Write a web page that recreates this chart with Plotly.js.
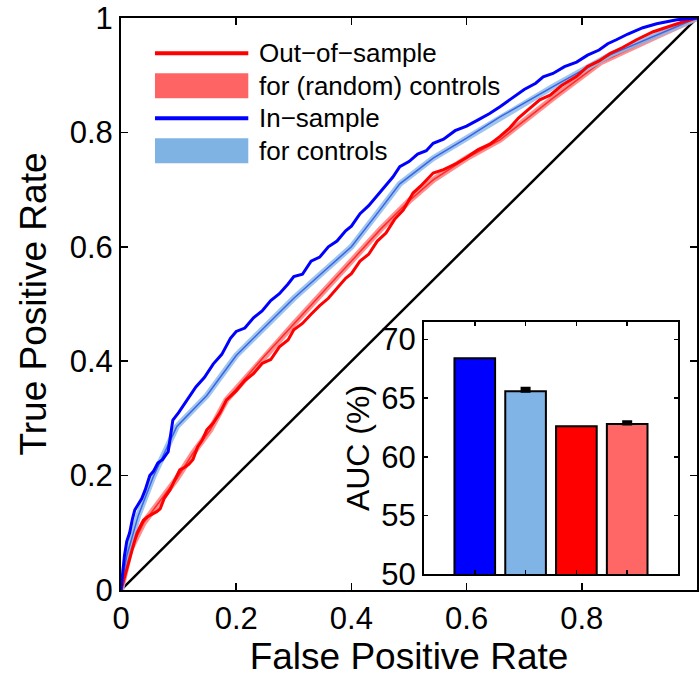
<!DOCTYPE html>
<html><head><meta charset="utf-8">
<script src="https://cdn.plot.ly/plotly-3.0.1.min.js"></script>
<style>body{margin:0;background:#fff}#chart{width:700px;height:680px}</style>
</head><body><div id="chart"></div>
<script>
// In-sample ROC (blue, jagged)
const inSampleFPR = [0,0.003,0.006,0.01,0.015,0.02,0.024,0.03,0.036,0.042,0.05,0.056,0.064,0.072,0.082,0.086,0.09,0.1,0.11,0.116,0.13,0.145,0.16,0.175,0.19,0.2,0.215,0.23,0.245,0.26,0.275,0.29,0.3,0.315,0.33,0.345,0.36,0.375,0.39,0.4,0.408,0.415,0.43,0.445,0.46,0.472,0.484,0.5,0.515,0.53,0.542,0.56,0.58,0.6,0.62,0.64,0.658,0.68,0.7,0.72,0.733,0.75,0.77,0.791,0.81,0.83,0.845,0.86,0.88,0.906,0.93,0.965,1];
const inSampleTPR = [0,0.03,0.06,0.085,0.1,0.125,0.14,0.15,0.16,0.175,0.2,0.207,0.222,0.228,0.242,0.27,0.297,0.31,0.325,0.335,0.355,0.372,0.395,0.412,0.44,0.452,0.458,0.476,0.488,0.506,0.518,0.535,0.548,0.552,0.575,0.582,0.6,0.61,0.628,0.636,0.648,0.658,0.672,0.69,0.706,0.722,0.74,0.749,0.762,0.768,0.781,0.788,0.803,0.811,0.822,0.833,0.845,0.86,0.875,0.886,0.897,0.903,0.915,0.923,0.935,0.944,0.955,0.962,0.972,0.983,0.99,0.997,1];
// In-sample controls (light blue band)
const ctrlInFPR = [0,0.01,0.03,0.056,0.097,0.149,0.2,0.25,0.3,0.35,0.4,0.45,0.484,0.542,0.6,0.658,0.75,0.85,0.93,1];
const ctrlInTPR = [0,0.06,0.13,0.198,0.286,0.34,0.41,0.46,0.51,0.555,0.6,0.665,0.71,0.755,0.79,0.827,0.88,0.936,0.97,1];
// Out-of-sample ROC (red, jagged)
const outSampleFPR = [0,0.004,0.008,0.012,0.016,0.022,0.028,0.034,0.039,0.046,0.055,0.062,0.068,0.075,0.085,0.092,0.102,0.11,0.118,0.125,0.133,0.141,0.149,0.16,0.172,0.183,0.2,0.215,0.23,0.245,0.26,0.275,0.29,0.3,0.315,0.33,0.345,0.36,0.375,0.39,0.4,0.415,0.43,0.445,0.46,0.475,0.49,0.507,0.52,0.542,0.56,0.583,0.6,0.62,0.64,0.658,0.675,0.69,0.705,0.727,0.745,0.765,0.791,0.81,0.83,0.849,0.87,0.895,0.924,0.95,0.975,1];
const outSampleTPR = [0,0.015,0.03,0.045,0.058,0.08,0.1,0.113,0.122,0.128,0.133,0.137,0.142,0.16,0.175,0.19,0.21,0.214,0.22,0.228,0.25,0.262,0.28,0.292,0.31,0.332,0.348,0.366,0.378,0.396,0.403,0.425,0.437,0.455,0.466,0.482,0.497,0.51,0.527,0.545,0.553,0.575,0.587,0.61,0.624,0.648,0.664,0.694,0.706,0.729,0.735,0.746,0.756,0.77,0.779,0.793,0.808,0.825,0.838,0.857,0.865,0.882,0.898,0.915,0.925,0.938,0.948,0.962,0.976,0.985,0.993,1];
// Out-of-sample random controls (light red band)
const ctrlOutFPR = [0,0.016,0.039,0.068,0.097,0.125,0.155,0.183,0.25,0.3,0.35,0.4,0.45,0.5,0.542,0.6,0.658,0.75,0.832,0.93,1];
const ctrlOutTPR = [0,0.07,0.117,0.157,0.195,0.239,0.28,0.332,0.41,0.465,0.52,0.575,0.63,0.68,0.717,0.755,0.787,0.86,0.922,0.968,1];
// chance diagonal
const diagX = [0,1];
const diagY = [0,1];
// Inset bar chart (AUC %)
const aucBars = [1,2,3,4];
const aucValues = [68.4,65.6,62.6,62.8];
const aucErrUp = [NaN,0.25,NaN,0.2];
const aucErrDown = [NaN,0,NaN,0];
const aucColors = ['#0000ff','#80b3e6','#ff0000','#ff6666'];
// ticks
const rocTickVals = [0,0.2,0.4,0.6,0.8,1];
const rocTickText = ['0','0.2','0.4','0.6','0.8','1'];
const aucTickVals = [50,55,60,65,70];
const aucTickText = ['50','55','60','65','70'];
// legend
const legendLabels = ['Out\u2212of\u2212sample','for (random) controls','In\u2212sample','for controls'];

const FONT = 'Liberation Sans, Arial, Helvetica, sans-serif';
const traces = [
  {x:diagX,y:diagY,mode:'lines',line:{color:'#000',width:2.5},hoverinfo:'skip'},
  {x:ctrlOutFPR,y:ctrlOutTPR,mode:'lines',line:{color:'#ff7b7b',width:6},opacity:0.85},
  {x:ctrlOutFPR,y:ctrlOutTPR,mode:'lines',line:{color:'#ff2a2a',width:1.5}},
  {x:ctrlInFPR,y:ctrlInTPR,mode:'lines',line:{color:'#8dbbea',width:6},opacity:0.85},
  {x:ctrlInFPR,y:ctrlInTPR,mode:'lines',line:{color:'#3a63e6',width:1.5}},
  {x:outSampleFPR,y:outSampleTPR,mode:'lines',line:{color:'#ff0000',width:3}},
  {x:inSampleFPR,y:inSampleTPR,mode:'lines',line:{color:'#0000ff',width:3}},
  {x:aucBars,y:aucValues,type:'bar',xaxis:'x2',yaxis:'y2',width:0.8,
   marker:{color:aucColors,line:{color:'#000',width:2}},
   error_y:{type:'data',symmetric:false,array:aucErrUp,arrayminus:aucErrDown,color:'#000',thickness:3,width:5}}
];

const axBase = {ticks:'inside',tickcolor:'#000',showline:true,linecolor:'#000',mirror:'ticks',showgrid:false,zeroline:false,tickfont:{family:FONT,size:31,color:'#000'}};
const shapes = [];
const annotations = [];
const symX0 = 0.059, symX1 = 0.221, txtX = 0.2356;
const rowY = [0.9383,0.8815,0.8247,0.7678];
const rowKind = ['line','band','line','band'];
const rowColor = ['#ff0000','#ff6464','#0000ff','#7fb3e4'];
for (let i=0;i<4;i++){
  if(rowKind[i]==='line'){
    shapes.push({type:'line',xref:'paper',yref:'paper',x0:symX0,x1:symX1,y0:rowY[i],y1:rowY[i],line:{color:rowColor[i],width:4}});
  } else {
    shapes.push({type:'rect',xref:'paper',yref:'paper',x0:symX0,x1:symX1,y0:rowY[i]-0.0219,y1:rowY[i]+0.0219,fillcolor:rowColor[i],line:{width:0}});
  }
  annotations.push({xref:'paper',yref:'paper',x:txtX,y:rowY[i],xanchor:'left',yanchor:'middle',text:legendLabels[i],showarrow:false,font:{family:FONT,size:26,color:'#000'}});
}

const layout = {
  width:700,height:680,margin:{l:121,r:3,t:18,b:90},
  paper_bgcolor:'#fff',plot_bgcolor:'#fff',showlegend:false,
  font:{family:FONT,color:'#000'},
  xaxis:Object.assign({},axBase,{domain:[0,1],range:[0,1],tickvals:rocTickVals,ticktext:rocTickText,ticklen:7,tickwidth:1.5,linewidth:2,anchor:'y',
    title:{text:'False Positive Rate',font:{family:FONT,size:37,color:'#000'},standoff:8}}),
  yaxis:Object.assign({},axBase,{domain:[0,1],range:[0,1],tickvals:rocTickVals,ticktext:rocTickText,ticklen:7,tickwidth:1.5,linewidth:2,anchor:'x',
    title:{text:'True Positive Rate',font:{family:FONT,size:37,color:'#000'},standoff:12}}),
  xaxis2:Object.assign({},axBase,{domain:[0.526,0.967],range:[0,5],tickvals:aucBars,showticklabels:false,ticklen:4,tickwidth:1.5,linewidth:2,anchor:'y2'}),
  yaxis2:Object.assign({},axBase,{domain:[0.028,0.4685],range:[50,71.5],tickvals:aucTickVals,ticktext:aucTickText,ticklen:4,tickwidth:1.5,linewidth:2,anchor:'x2',
    title:{text:'AUC (%)',font:{family:FONT,size:32,color:'#000'},standoff:2}}),
  shapes:shapes,annotations:annotations
};
Plotly.newPlot('chart',traces,layout,{displayModeBar:false,staticPlot:true});
</script></body></html>
